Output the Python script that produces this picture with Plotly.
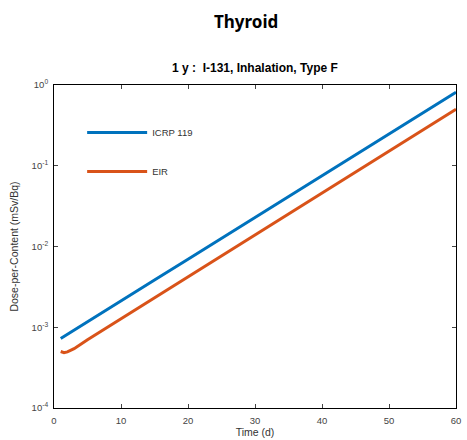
import plotly.graph_objects as go

days = [1, 1.5, 2, 3, 5, 10, 15, 20, 25, 30, 35, 40, 45, 50, 55, 60]
icrp119 = [7.24e-4, 7.69e-4, 8.16e-4, 9.19e-4, 1.17e-3, 2.11e-3, 3.84e-3, 6.95e-3,
           1.26e-2, 2.29e-2, 4.15e-2, 7.52e-2, 0.136, 0.247, 0.449, 0.813]
eir = [5.01e-4, 4.85e-4, 4.95e-4, 5.43e-4, 7.0e-4, 1.27e-3, 2.32e-3, 4.21e-3,
       7.66e-3, 1.39e-2, 2.53e-2, 4.59e-2, 8.36e-2, 0.152, 0.276, 0.50]

x_ticks = [0, 10, 20, 30, 40, 50, 60]
y_tickvals = [1e-4, 1e-3, 1e-2, 1e-1, 1e0]
y_ticktext = ["10<sup>-4</sup>", "10<sup>-3</sup>", "10<sup>-2</sup>", "10<sup>-1</sup>", "10<sup>0</sup>"]

BLUE = "#0072BD"
ORANGE = "#D95319"

fig = go.Figure()
fig.add_trace(go.Scatter(x=days, y=icrp119, mode="lines", name="ICRP 119",
                         line=dict(color=BLUE, width=3), legendgroup="a"))
fig.add_trace(go.Scatter(x=days, y=eir, mode="lines", name="EIR",
                         line=dict(color=ORANGE, width=3), legendgroup="b"))

axis_font = dict(family="Liberation Sans, Arial, sans-serif", size=9.5, color="#444")

fig.update_layout(
    width=467, height=440,
    margin=dict(l=54, r=6, t=85, b=32),
    paper_bgcolor="white", plot_bgcolor="white",
    font=dict(family="Liberation Sans, Arial, sans-serif", color="#222"),
    showlegend=True,
    legend=dict(x=0.07, y=0.898, xanchor="left", yanchor="top",
                bgcolor="rgba(0,0,0,0)", borderwidth=0,
                font=dict(family="Liberation Sans, Arial, sans-serif", size=9.5, color="#333"),
                tracegroupgap=20, itemwidth=60),
    xaxis=dict(range=[0, 60], tickvals=x_ticks, ticks="inside", ticklen=4,
               showline=True, linecolor="black", linewidth=1, mirror="ticks",
               showgrid=False, zeroline=False, tickfont=axis_font, ticklabelstandoff=4,
               title=dict(text="Time (d)", font=dict(size=10.5, color="#333"), standoff=0)),
    yaxis=dict(type="log", range=[-4, 0], tickvals=y_tickvals, ticktext=y_ticktext,
               ticks="inside", ticklen=4,
               showline=True, linecolor="black", linewidth=1, mirror="ticks",
               showgrid=False, zeroline=False, tickfont=axis_font, ticklabelstandoff=3,
               title=dict(text="Dose-per-Content (mSv/Bq)", font=dict(size=10.5, color="#333"), standoff=10)),
    annotations=[
        dict(text="<b>Thyroid</b>", x=248, y=22, xref="paper", yref="paper",
             showarrow=False, font=dict(family="Noto Sans, sans-serif", size=17, color="black")),
        dict(text="<b>1 y :  I-131, Inhalation, Type F</b>", x=0.5, y=1.0, xref="paper", yref="paper",
             xanchor="center", yanchor="bottom", yshift=8, showarrow=False,
             font=dict(family="Liberation Sans, Arial, sans-serif", size=12, color="black")),
    ],
)
fig.layout.annotations[0].update(x=(248 - 54) / (467 - 60), y=1 + (85 - 22) / (440 - 117),
                                 xanchor="center", yanchor="middle")

fig.write_html("out.html")
